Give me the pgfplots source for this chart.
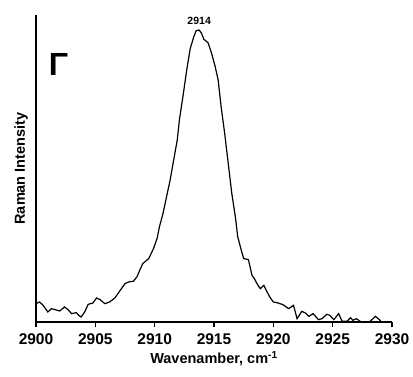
\documentclass[border=0pt]{standalone}
\usepackage{fontspec}
\setmainfont{Liberation Sans}
\usepackage{pgfplots}
\pgfplotsset{compat=1.18}
\begin{document}
\begin{tikzpicture}
\begin{axis}[
  scale only axis,
  width=356pt, height=307pt,
  xmin=2900, xmax=2930,
  ymin=0, ymax=920,
  axis x line*=bottom,
  axis y line*=left,
  axis line style={line width=1.2pt},
  xtick={2900,2905,...,2930},
  ytick=\empty,
  tick align=outside,
  major tick length=5pt,
  tick style={line width=1.2pt, black},
  /pgf/number format/assume math mode=true,
  /pgf/number format/1000 sep={},
  xticklabel style={font=\fontsize{15.5}{17}\selectfont\bfseries, yshift=-3pt},
  xlabel={Wavenamber, cm\textsuperscript{-1}},
  xlabel style={font=\fontsize{14.5}{17}\selectfont\bfseries, yshift=0pt},
  ylabel={Raman Intensity},
  ylabel style={font=\fontsize{14.5}{17}\selectfont\bfseries, yshift=-0.5pt},
  clip=false,
]
\addplot[black, line width=1.2pt] coordinates {
(2900.0,55) (2900.3,60) (2900.6,50) (2901.0,30) (2901.3,40) (2901.6,37)
(2902.0,33) (2902.4,45) (2902.7,37) (2903.0,25) (2903.4,28) (2903.6,20)
(2903.8,15) (2904.1,30) (2904.4,53) (2904.8,57) (2905.1,72) (2905.4,67)
(2905.8,55) (2906.2,60) (2906.65,72) (2907.1,95) (2907.5,115) (2907.8,120)
(2908.2,122) (2908.5,135) (2908.8,160) (2909.0,175) (2909.5,190) (2909.9,220)
(2910.2,250) (2910.4,285) (2910.7,325) (2911.0,375) (2911.3,425) (2911.6,485)
(2911.9,545) (2912.1,610) (2912.4,680) (2912.7,755) (2913.0,820) (2913.3,855)
(2913.5,873) (2913.75,875) (2913.95,865) (2914.15,847) (2914.5,837) (2914.8,805)
(2915.1,765) (2915.35,725) (2915.6,645) (2915.9,565) (2916.2,475) (2916.5,385)
(2916.8,315) (2917.0,255) (2917.3,215) (2917.5,190) (2917.9,187) (2918.2,140)
(2918.4,130) (2918.7,110) (2918.9,100) (2919.2,110) (2919.4,95) (2919.7,75)
(2920.0,60) (2920.4,57) (2920.8,52) (2921.3,40) (2921.7,50) (2922.0,10)
(2922.4,32) (2922.7,27) (2923.0,17) (2923.35,25) (2923.8,7) (2924.1,10)
(2924.5,23) (2924.75,20) (2925.1,7) (2925.5,25) (2925.8,2) (2926.2,2)
(2926.5,13) (2926.7,5) (2927.0,10) (2927.4,0) (2928.1,0) (2928.6,17)
(2929.0,5) (2929.1,0)
};
\node[font=\fontsize{10.5}{12}\selectfont\bfseries, anchor=south] at (axis cs:2913.75,880) {2914};
\node[font=\fontsize{32}{36}\selectfont\bfseries] at (rel axis cs:0.063,0.839) {Γ};
\end{axis}
\path ([shift={(-36pt,-54pt)}]current axis.south west) rectangle ([shift={(21pt,15pt)}]current axis.north east);
\end{tikzpicture}
\end{document}
